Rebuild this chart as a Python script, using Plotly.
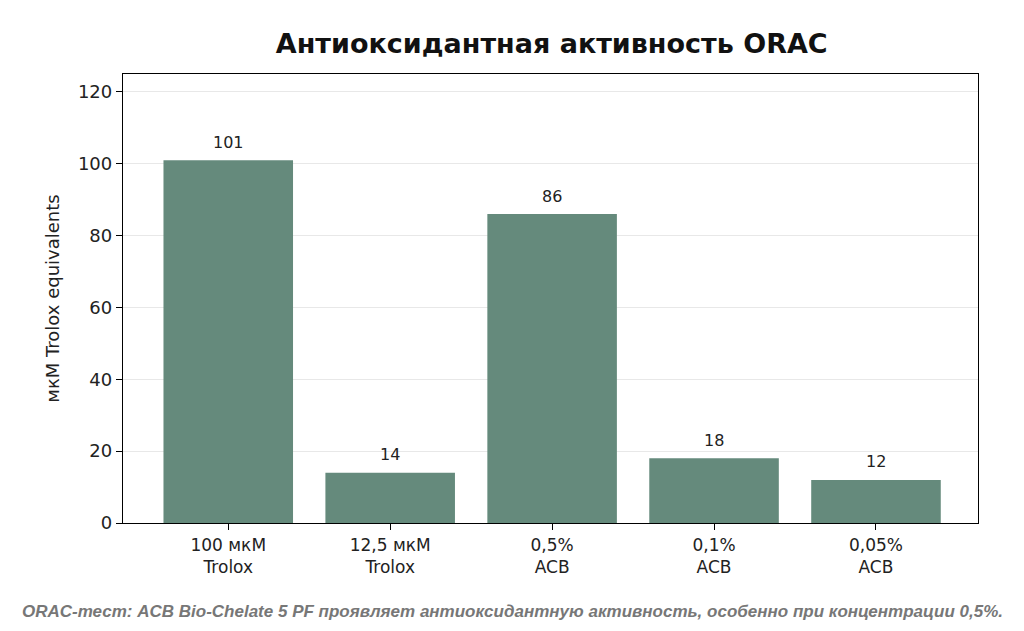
import plotly.graph_objects as go

categories = ["100 мкМ<br>Trolox", "12,5 мкМ<br>Trolox", "0,5%<br>ACB", "0,1%<br>ACB", "0,05%<br>ACB"]
values = [101, 14, 86, 18, 12]
value_labels = ["101", "14", "86", "18", "12"]
y_ticks = [0, 20, 40, 60, 80, 100, 120]

title_text = "<b>Антиоксидантная активность ORAC</b>"
y_title = "мкМ Trolox equivalents"
caption = "<b><i>ORAC-тест: ACB Bio-Chelate 5 PF проявляет антиоксидантную активность, особенно при концентрации 0,5%.</i></b>"

xs = list(range(len(categories)))
fig = go.Figure()
fig.add_trace(go.Bar(
    x=xs, y=values, width=0.8,
    marker=dict(color="#658a7c", line=dict(width=0)),
))
for xv, yv, lab in zip(xs, values, value_labels):
    fig.add_annotation(x=xv, y=yv, text=lab, showarrow=False, yshift=18,
                       xanchor="center", yanchor="middle",
                       font=dict(family="DejaVu Sans", size=16, color="#222"))

fig.update_layout(
    width=1024, height=631,
    paper_bgcolor="white", plot_bgcolor="white",
    margin=dict(l=115, r=54, t=66, b=116),
    font=dict(family="DejaVu Sans", color="#222"),
    title=dict(text=title_text, x=0.531, xanchor="center", y=0.943, yanchor="middle",
               font=dict(family="DejaVu Sans", size=27, color="#111")),
    showlegend=False,
)
fig.update_xaxes(
    tickmode="array", tickvals=xs, ticktext=categories,
    range=[-0.65, 4.63], showline=True, linecolor="black", linewidth=1.3, mirror=True,
    ticks="outside", ticklen=6, tickcolor="black", showgrid=False,
    tickfont=dict(size=17, family="DejaVu Sans", color="#222"),
)
fig.update_yaxes(
    tickmode="array", tickvals=y_ticks, range=[0, 125],
    showline=True, linecolor="black", linewidth=1.3, mirror=True,
    ticks="outside", ticklen=6, tickcolor="black",
    showgrid=True, gridcolor="#e8e8e8", gridwidth=1, zeroline=False,
    tickfont=dict(size=18, family="DejaVu Sans", color="#222"),
    title=dict(text=y_title, font=dict(size=18, family="DejaVu Sans", color="#222"), standoff=13),
)
fig.add_annotation(
    text=caption, xref="paper", yref="paper", x=0.455, y=-0.198, xanchor="center", yanchor="middle",
    showarrow=False,
    font=dict(family="Liberation Sans", size=17, color="#777"),
)
fig.write_html("out.html")
